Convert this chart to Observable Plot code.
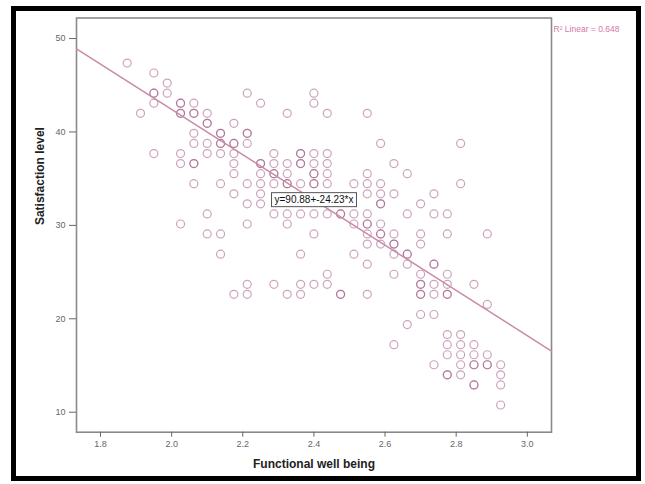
<!DOCTYPE html>
<html><head><meta charset="utf-8">
<script src="https://cdn.jsdelivr.net/npm/d3@7"></script>
<script src="https://cdn.jsdelivr.net/npm/@observablehq/plot@0.6"></script>
<style>
html,body{margin:0;padding:0;background:#fff;}
#wrap{position:relative;width:645px;height:484px;overflow:hidden;background:#fff;}
#chart{position:absolute;left:0;top:0;}
#border{position:absolute;left:11px;top:6px;width:620px;height:465px;border:5px solid #000;pointer-events:none;box-sizing:content-box;}
</style></head><body>
<div id="wrap"><div id="chart"></div><div id="border"></div></div>
<script>
// Satisfaction level (y) rows, with the Functional well being (x) values observed on each row
const satisfactionLevels = [47.38, 46.31, 45.23, 44.15, 43.08, 42.00, 40.92, 39.85, 38.77, 37.69, 36.62, 35.54, 34.46, 33.38, 32.31, 31.23, 30.15, 29.08, 28.00, 26.92, 25.85, 24.77, 23.69, 22.62, 21.54, 20.46, 19.38, 18.31, 17.23, 16.15, 15.08, 14.00, 12.92, 10.77];
const functionalWellBeing = [
  [1.875],
  [1.95],
  [1.9875],
  [1.95, 1.95, 1.9875, 2.2125, 2.4],
  [1.95, 2.025, 2.025, 2.0625, 2.25, 2.4],
  [1.9125, 2.025, 2.025, 2.0625, 2.0625, 2.1, 2.325, 2.4375, 2.55],
  [2.1, 2.1, 2.175],
  [2.0625, 2.1375, 2.1375, 2.2125, 2.2125],
  [2.0625, 2.1, 2.1375, 2.1375, 2.175, 2.175, 2.2125, 2.5875, 2.8125],
  [1.95, 2.025, 2.1, 2.1375, 2.175, 2.2875, 2.3625, 2.3625, 2.4, 2.4375],
  [2.025, 2.0625, 2.0625, 2.175, 2.25, 2.25, 2.2875, 2.325, 2.3625, 2.3625, 2.4, 2.4375, 2.625],
  [2.175, 2.25, 2.2875, 2.2875, 2.325, 2.4, 2.4, 2.4375, 2.55, 2.6625],
  [2.0625, 2.1375, 2.2125, 2.25, 2.2875, 2.325, 2.325, 2.3625, 2.4, 2.4, 2.4375, 2.5125, 2.55, 2.5875, 2.8125],
  [2.175, 2.25, 2.55, 2.5875, 2.625, 2.7375],
  [2.2125, 2.25, 2.5875, 2.5875, 2.7],
  [2.1, 2.2875, 2.325, 2.3625, 2.4, 2.4375, 2.475, 2.475, 2.5125, 2.55, 2.6625, 2.7375, 2.775],
  [2.025, 2.2125, 2.325, 2.5125, 2.55, 2.55, 2.5875],
  [2.1, 2.1375, 2.4, 2.55, 2.5875, 2.5875, 2.625, 2.7, 2.775, 2.8875],
  [2.55, 2.5875, 2.625, 2.625, 2.7],
  [2.1375, 2.3625, 2.5125, 2.625, 2.6625, 2.6625],
  [2.55, 2.6625, 2.7375, 2.7375],
  [2.4375, 2.625, 2.7, 2.775],
  [2.2125, 2.2875, 2.3625, 2.4, 2.4375, 2.7, 2.7, 2.7375, 2.775, 2.85],
  [2.175, 2.2125, 2.325, 2.3625, 2.475, 2.475, 2.55, 2.7, 2.7, 2.7375, 2.775, 2.775],
  [2.8875],
  [2.7, 2.7375],
  [2.6625],
  [2.775, 2.8125],
  [2.625, 2.775, 2.8125, 2.85],
  [2.775, 2.8125, 2.85, 2.8875],
  [2.7375, 2.8125, 2.85, 2.85, 2.8875, 2.8875, 2.925],
  [2.775, 2.775, 2.8125, 2.925],
  [2.85, 2.85, 2.925],
  [2.925]
];
const xTicks = [1.8, 2.0, 2.2, 2.4, 2.6, 2.8, 3.0];
const yTicks = [10, 20, 30, 40, 50];
const fitIntercept = 90.88;
const fitSlope = -24.23;
const rSquared = 0.648;
const xDomain = [1.7325, 3.068];
const yDomain = [7.86, 52.2];

const points = satisfactionLevels.flatMap((s, i) => functionalWellBeing[i].map(x => ({x, y: s})));
const fitLine = xDomain.map(x => ({x, y: fitIntercept + fitSlope * x}));
const mid = (xDomain[0] + xDomain[1]) / 2;
const eqText = `y=${fitIntercept}+${fitSlope}*x`;
const eqLabel = [{x: mid, y: fitIntercept + fitSlope * mid, text: eqText}];

const font = "'Liberation Sans', Arial, sans-serif";
const chart = Plot.plot({
  width: 645, height: 484,
  marginLeft: 76, marginRight: 94, marginTop: 17.5, marginBottom: 52.3,
  style: {fontFamily: font, background: "transparent", overflow: "visible"},
  x: {domain: xDomain},
  y: {domain: yDomain},
  marks: [
    Plot.frame({stroke: "#8a8a8a", strokeWidth: 1.6}),
    Plot.axisX({ticks: xTicks, tickFormat: d3.format(".1f"), tickSize: 5, tickPadding: 3, fontSize: 9, color: "#666", label: null}),
    Plot.axisY({ticks: yTicks, tickSize: 7, tickPadding: 4, fontSize: 9, color: "#666", label: null}),
    Plot.dot(points, {x: "x", y: "y", r: 4, stroke: "#9a4a7a", strokeOpacity: 0.5, strokeWidth: 1.2, fill: "none"}),
    Plot.line(fitLine, {x: "x", y: "y", stroke: "#c98aa8", strokeWidth: 1.5}),
    Plot.text(eqLabel, {x: "x", y: "y", text: "text", fontSize: 10, fill: "#111"}),
    Plot.text(["Functional well being"], {text: d => d, frameAnchor: "bottom", dy: 36, fontSize: 12, fontWeight: "bold", fill: "#222"}),
    Plot.text(["Satisfaction level"], {text: d => d, frameAnchor: "left", dx: -36, rotate: -90, fontSize: 12, fontWeight: "bold", fill: "#222"}),
    Plot.text([`R² Linear = ${rSquared}`], {text: d => d, frameAnchor: "top-right", dx: 2, dy: 8, textAnchor: "start", fontSize: 8.5, fill: "#d678a8"})
  ]
});
document.getElementById("chart").appendChild(chart);

// white box behind the equation label
d3.select(chart).selectAll("text").filter(function() { return this.textContent === eqText; }).each(function() {
  const b = this.getBBox();
  const r = d3.select(this.parentNode).insert("rect", () => this)
    .attr("x", b.x - 3).attr("y", b.y - 1.5)
    .attr("width", b.width + 6).attr("height", b.height + 3)
    .attr("fill", "#fff").attr("stroke", "#555").attr("stroke-width", 1);
  const t = this.getAttribute("transform");
  if (t) r.attr("transform", t);
});
</script>
</body></html>
